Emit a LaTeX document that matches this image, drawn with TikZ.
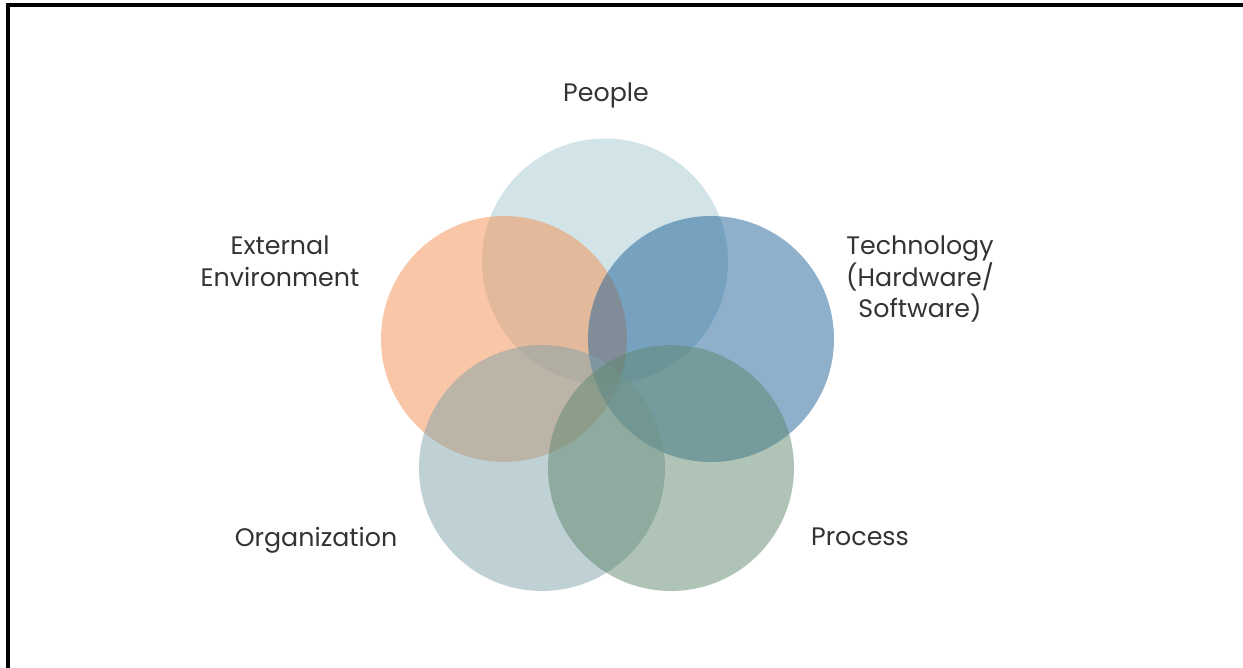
\documentclass[tikz,border=0pt]{standalone}
\usepackage{fontspec}
\setmainfont{Poppins}
\usetikzlibrary{positioning}

\definecolor{peoplec}{RGB}{165,201,209}
\definecolor{extc}{RGB}{243,143,79}
\definecolor{techc}{RGB}{31,97,151}
\definecolor{orgc}{RGB}{129,163,171}
\definecolor{procc}{RGB}{95,135,109}
\definecolor{textc}{RGB}{51,51,51}

\begin{document}
\begin{tikzpicture}[
    x=0.02cm, y=-0.02cm, align=center,
    venn/.style={circle, draw=none, inner sep=0pt, minimum size=4.92cm, fill opacity=0.5},
    lbl/.style={inner sep=0pt, text=textc, font=\fontsize{14.4}{18.2}\selectfont},
    frame/.style={line width=0.08cm, line cap=rect}
]
\useasboundingbox (0,0) rectangle (1243,668);

% Frame
\draw[frame] (8,668) -- (8,5.5) -- (1243,5.5);

% Circles
\node[venn, fill=peoplec] (people) at (605,261.5) {};
\node[venn, fill=extc] (external) at (504,339) {};
\node[venn, fill=techc] (technology) at (711,339) {};
\node[venn, fill=orgc] (organization) at (542,468) {};
\node[venn, fill=procc] (process) at (671,468) {};

% Labels
\node[lbl, anchor=base] (peopleLbl) at (606,102) {People};
\node[lbl] (externalLbl) at (280,261) {External\\Environment};
\node[lbl] (technologyLbl) at (920,279) {Technology\\(Hardware/\\Software)};
\node[lbl, anchor=base] (organizationLbl) at (316,546) {Organization};
\node[lbl, anchor=base] (processLbl) at (860,545) {Process};

\end{tikzpicture}
\end{document}
